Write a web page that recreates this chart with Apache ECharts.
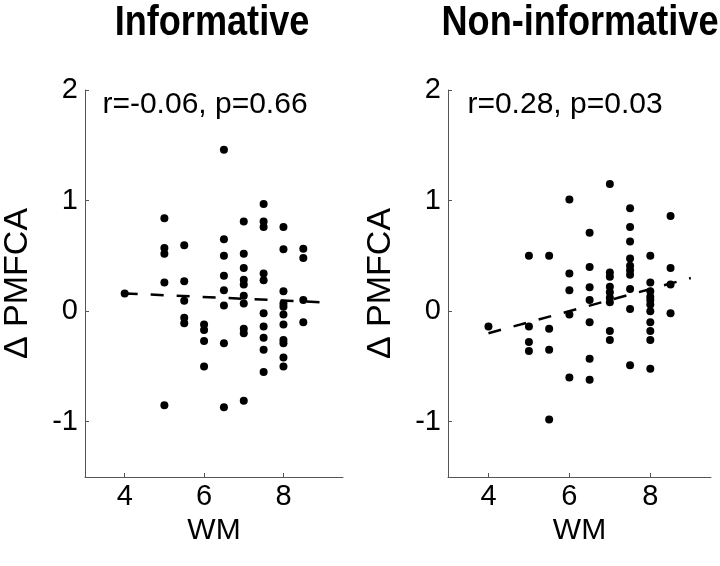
<!DOCTYPE html>
<html>
<head>
<meta charset="utf-8">
<script src="https://cdn.jsdelivr.net/npm/echarts@6/dist/echarts.min.js"></script>
<style>
html,body{margin:0;padding:0;background:#fff;}
#chart{width:720px;height:566px;}
</style>
</head>
<body>
<div id="chart"></div>
<script>
// ---- Data ----
const panelTitles = ["Informative", "Non-informative"];
const statsText = ["r=-0.06, p=0.66", "r=0.28, p=0.03"];
const xTicks = [4, 6, 8];
const yTicks = [-1, 0, 1, 2];

const leftWM = [4,
  5,5,5,5,5,
  5.5,5.5,5.5,5.5,5.5,
  6,6,6,6,
  6.5,6.5,6.5,6.5,6.5,6.5,6.5,6.5,
  7,7,7,7,7,7,7,7,7,7,
  7.5,7.5,7.5,7.5,7.5,7.5,7.5,7.5,7.5,7.5,
  8,8,8,8,8,8,8,8,8,8,8,
  8.5,8.5,8.5,8.5];
const leftPMFCA = [0.16,
  0.84,0.57,0.52,0.26,-0.85,
  0.595,0.27,0.095,-0.06,-0.11,
  -0.12,-0.17,-0.27,-0.50,
  1.46,0.65,0.50,0.32,0.19,0.05,-0.29,-0.87,
  0.81,0.52,0.39,0.285,0.24,0.14,0.07,-0.16,-0.20,-0.81,
  0.97,0.81,0.76,0.34,0.28,-0.02,-0.14,-0.24,-0.35,-0.55,
  0.76,0.56,0.18,0.07,0.04,-0.03,-0.12,-0.26,-0.29,-0.42,-0.50,
  0.565,0.48,0.10,-0.10];

const rightWM = [4,
  5,5,5,5,
  5.5,5.5,5.5,5.5,
  6,6,6,6,6,
  6.5,6.5,6.5,6.5,6.5,6.5,6.5,
  7,7,7,7,7,7,7,7,7,
  7.5,7.5,7.5,7.5,7.5,7.5,7.5,7.5,7.5,7.5,
  8,8,8,8,8,8,8,8,8,8,8,
  8.5,8.5,8.5,8.5];
const rightPMFCA = [-0.14,
  0.50,-0.14,-0.28,-0.36,
  0.50,-0.16,-0.35,-0.98,
  1.01,0.34,0.19,-0.03,-0.60,
  0.71,0.40,0.215,0.10,-0.10,-0.43,-0.62,
  1.15,0.35,0.31,0.22,0.17,0.12,0.08,-0.18,-0.26,
  0.93,0.76,0.63,0.475,0.41,0.37,0.33,0.20,0.02,-0.49,
  0.50,0.26,0.18,0.13,0.10,0.06,0.00,-0.10,-0.18,-0.26,-0.52,
  0.86,0.39,0.24,-0.02];

// fitted regression lines (endpoints)
const leftFitWM = [4, 9];
const leftFitPMFCA = [0.16, 0.08];
const rightFitWM = [4, 9];
const rightFitPMFCA = [-0.20, 0.30];

// ---- Chart ----
const FONT = "'Liberation Sans', Arial, Helvetica, sans-serif";
const zip = (a, b) => a.map((v, i) => [v, b[i]]);

const grids = [
  {left: 83, right: 377, top: 90, bottom: 89},
  {left: 448, right: 9, top: 90, bottom: 89}
];

function xAxis(i) {
  return {
    gridIndex: i, type: 'value', min: 3, max: 9.5,
    name: 'WM', nameLocation: 'middle', nameGap: 29,
    nameTextStyle: {fontFamily: FONT, fontSize: 30, color: '#000'},
    axisLine: {show: true, onZero: false, lineStyle: {color: '#555', width: 1}},
    axisTick: {show: true, inside: true, length: 4, customValues: xTicks, lineStyle: {color: '#555'}},
    axisLabel: {customValues: xTicks, fontFamily: FONT, fontSize: 29, color: '#000', margin: 5},
    splitLine: {show: false}
  };
}
function yAxis(i) {
  return {
    gridIndex: i, type: 'value', min: -1.5, max: 2,
    name: 'Δ PMFCA', nameLocation: 'middle', nameGap: 50, nameRotate: 90,
    nameTextStyle: {fontFamily: FONT, fontSize: 34, color: '#000'},
    axisLine: {show: true, onZero: false, lineStyle: {color: '#555', width: 1}},
    axisTick: {show: true, inside: true, length: 4, customValues: yTicks, lineStyle: {color: '#555'}},
    axisLabel: {customValues: yTicks, fontFamily: FONT, fontSize: 29, color: '#000', margin: 7},
    splitLine: {show: false}
  };
}

const chart = echarts.init(document.getElementById('chart'), null, {renderer: 'canvas'});
chart.setOption({
  backgroundColor: '#fff',
  animation: false,
  title: [
    {text: statsText[0], left: 200, top: 85, textAlign: 'center',
     textStyle: {fontFamily: FONT, fontWeight: 'normal', fontSize: 30, color: '#000'}},
    {text: statsText[1], left: 560, top: 85, textAlign: 'center',
     textStyle: {fontFamily: FONT, fontWeight: 'normal', fontSize: 30, color: '#000'}}
  ],
  graphic: [
    {type: 'text', x: 212, y: 23, scaleX: 0.86,
     style: {text: panelTitles[0], font: "bold 42px " + FONT, fill: '#000',
             textAlign: 'center', textVerticalAlign: 'middle'}},
    {type: 'text', x: 580, y: 23, scaleX: 0.86,
     style: {text: panelTitles[1], font: "bold 42px " + FONT, fill: '#000',
             textAlign: 'center', textVerticalAlign: 'middle'}}
  ],
  grid: grids,
  xAxis: [xAxis(0), xAxis(1)],
  yAxis: [yAxis(0), yAxis(1)],
  series: [
    {type: 'scatter', xAxisIndex: 0, yAxisIndex: 0, data: zip(leftWM, leftPMFCA),
     symbolSize: 8, itemStyle: {color: '#000', opacity: 1}},
    {type: 'line', xAxisIndex: 0, yAxisIndex: 0, data: zip(leftFitWM, leftFitPMFCA),
     symbol: 'none', lineStyle: {color: '#000', width: 2.5, type: [13, 13]}},
    {type: 'scatter', xAxisIndex: 1, yAxisIndex: 1, data: zip(rightWM, rightPMFCA),
     symbolSize: 8, itemStyle: {color: '#000', opacity: 1}},
    {type: 'line', xAxisIndex: 1, yAxisIndex: 1, data: zip(rightFitWM, rightFitPMFCA),
     symbol: 'none', lineStyle: {color: '#000', width: 2.5, type: [13, 13]}}
  ]
});
</script>
</body>
</html>
